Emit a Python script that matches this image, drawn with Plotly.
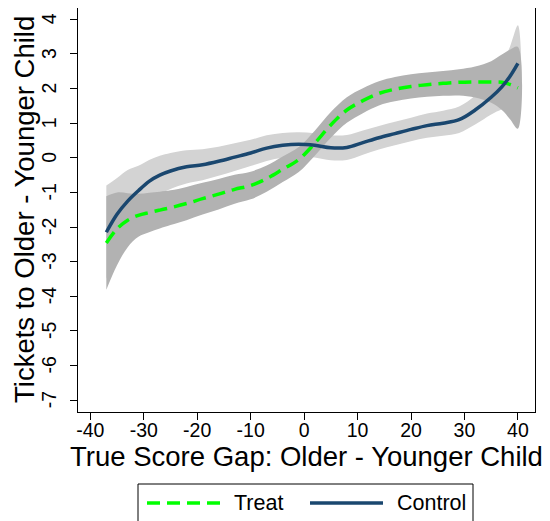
import plotly.graph_objects as go

# x grid (true score gap)
gap = [-37, -35, -33, -31, -29, -27, -25, -22, -19, -16, -13, -10, -7, -4, -1,
       2, 5, 8, 11, 14, 17, 20, 23, 26, 29, 32, 35, 37, 38.5, 40]

control = [-2.15, -1.63, -1.25, -0.95, -0.68, -0.50, -0.38, -0.26, -0.20, -0.10,
           0.02, 0.14, 0.28, 0.36, 0.39, 0.36, 0.29, 0.30, 0.44, 0.58, 0.70, 0.82,
           0.93, 1.00, 1.10, 1.38, 1.75, 2.05, 2.35, 2.73]
control_hw = [1.35, 1.05, 0.90, 0.72, 0.62, 0.56, 0.52, 0.48, 0.45, 0.42, 0.40,
              0.38, 0.37, 0.36, 0.35, 0.35, 0.36, 0.36, 0.35, 0.34, 0.34, 0.34,
              0.35, 0.36, 0.38, 0.42, 0.50, 0.65, 0.85, 1.10]

treat = [-2.46, -2.05, -1.80, -1.66, -1.58, -1.51, -1.44, -1.32, -1.18, -1.05,
         -0.91, -0.80, -0.60, -0.33, -0.05, 0.42, 0.95, 1.38, 1.65, 1.86, 1.98,
         2.06, 2.11, 2.15, 2.18, 2.19, 2.19, 2.18, 2.12, 2.02]
treat_hw = [1.35, 1.05, 0.78, 0.62, 0.57, 0.53, 0.50, 0.48, 0.46, 0.44, 0.42,
            0.40, 0.38, 0.37, 0.36, 0.36, 0.37, 0.37, 0.36, 0.35, 0.35, 0.35,
            0.35, 0.36, 0.38, 0.45, 0.60, 0.80, 1.00, 1.18]

x_ticks = [-40, -30, -20, -10, 0, 10, 20, 30, 40]
x_tick_labels = ["-40", "-30", "-20", "-10", "0", "10", "20", "30", "40"]
y_ticks = [-7, -6, -5, -4, -3, -2, -1, 0, 1, 2, 3, 4]
y_tick_labels = ["-7", "-6", "-5", "-4", "-3", "-2", "-1", "0", "1", "2", "3", "4"]

series_names = ["Treat", "Control"]
series_colors = ["#00ff00", "#1a476f"]
series_dash = ["13px,7px", "solid"]
y_title = "Tickets to Older - Younger Child"

FONT = "Arial, Liberation Sans, sans-serif"

# the page adds an 8px body margin, so the figure is laid out 8px up/left
OFF = 8
W, H = 550, 521
ML, MR, MT, MB = 78 - OFF, 550 - 535 + OFF, 0, 521 - 412 + OFF
PW, PH = W - ML - MR, H - MT - MB


def px_x(px):
    return (px - OFF - ML) / PW


def px_y(py):
    return (H - MB - (py - OFF)) / PH


def band(xs, ys, hw):
    upper = [y + h for y, h in zip(ys, hw)]
    lower = [y - h for y, h in zip(ys, hw)]
    return xs + xs[::-1], upper + lower[::-1]


fig = go.Figure()
bx, by = band(gap, control, control_hw)
fig.add_trace(go.Scatter(x=bx, y=by, fill="toself", fillcolor="#d3d3d3",
                         line=dict(width=0, shape="spline"), mode="lines",
                         showlegend=False, hoverinfo="skip"))
bx, by = band(gap, treat, treat_hw)
fig.add_trace(go.Scatter(x=bx, y=by, fill="toself", fillcolor="#b2b2b2",
                         line=dict(width=0, shape="spline"), mode="lines",
                         showlegend=False, hoverinfo="skip"))
for name, ys, col, dash in [("Treat", treat, series_colors[0], series_dash[0]),
                            ("Control", control, series_colors[1], series_dash[1])]:
    fig.add_trace(go.Scatter(x=gap, y=ys, mode="lines", name=name, showlegend=False,
                             line=dict(color=col, width=3.5, dash=dash,
                                       shape="spline")))

# legend drawn manually (box partly cut off at the bottom, as in the original)
shapes = [dict(type="rect", xref="paper", yref="paper",
               x0=px_x(138), x1=px_x(473), y0=px_y(530), y1=px_y(484),
               line=dict(color="black", width=1), fillcolor="white", layer="above")]
annotations = []
leg_y = 503
for name, col, dash, lx, tx in zip(series_names, series_colors, series_dash,
                                   [147, 310], [232, 395]):
    shapes.append(dict(type="line", xref="paper", yref="paper",
                       x0=px_x(lx), x1=px_x(lx + 73), y0=px_y(leg_y), y1=px_y(leg_y),
                       line=dict(color=col, width=3.5, dash=dash)))
    annotations.append(dict(text=name, xref="paper", yref="paper",
                            x=px_x(tx), y=px_y(leg_y), xanchor="left", yanchor="middle",
                            showarrow=False, font=dict(size=21.5, color="black")))

# rotated y tick labels, placed on the y axis scale
for val, lab in zip(y_ticks, y_tick_labels):
    annotations.append(dict(text=lab, xref="paper", yref="y", x=px_x(49), y=val,
                            xanchor="center", yanchor="middle", textangle=-90,
                            showarrow=False, font=dict(size=19.5, color="black")))

# y-axis title
annotations.append(dict(text=y_title, xref="paper", yref="paper",
                        x=px_x(24), y=px_y(210), xanchor="center", yanchor="middle",
                        textangle=-90, showarrow=False,
                        font=dict(size=27.5, color="black")))

fig.update_layout(
    width=W, height=H,
    margin=dict(l=ML, r=MR, t=MT, b=MB),
    plot_bgcolor="white", paper_bgcolor="white",
    font=dict(family=FONT, color="black", size=19.5),
    showlegend=False,
    shapes=shapes, annotations=annotations,
    xaxis=dict(range=[-42.3, 43.2], tickvals=x_ticks, ticktext=x_tick_labels,
               ticks="outside", ticklen=7, automargin=False, ticklabelstandoff=-6,
               tickcolor="black", showgrid=False, zeroline=False, showline=True,
               linecolor="black", linewidth=1, mirror=True,
               tickfont=dict(size=19.5),
               title=dict(text="True Score Gap: Older - Younger Child",
                          font=dict(size=27.5), standoff=0)),
    yaxis=dict(range=[-7.34, 4.326], tickvals=y_ticks, showticklabels=False,
               ticks="outside", ticklen=7, automargin=False,
               tickcolor="black", showgrid=False, zeroline=False, showline=True,
               linecolor="black", linewidth=1, mirror=True),
)

fig.write_html("out.html")
